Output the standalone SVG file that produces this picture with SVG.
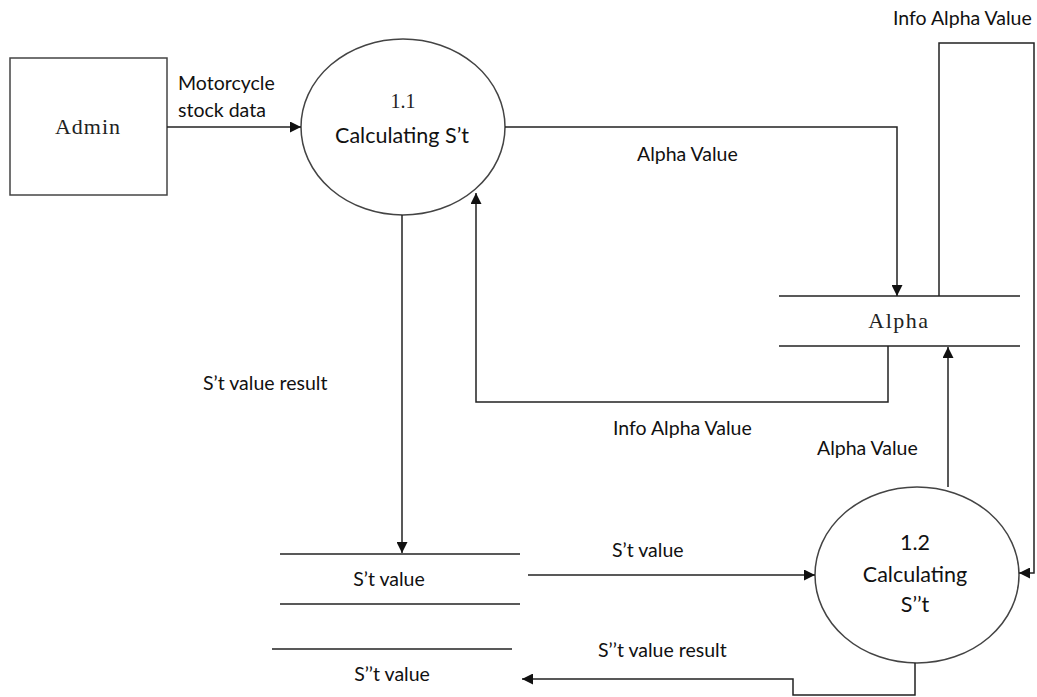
<svg xmlns="http://www.w3.org/2000/svg" width="1037" height="697" viewBox="0 0 1037 697">
<style>
.ln{fill:none;stroke:#222;stroke-width:1.5}
.sh{fill:#fff;stroke:#444;stroke-width:1.5}
.t{font-family:Lato,"Open Sans",sans-serif;font-size:19.5px;fill:#111}
.s{font-family:"Liberation Serif",serif;font-size:22px;fill:#222}
.c{text-anchor:middle}
</style>
<defs>
<marker id="ah" viewBox="0 0 10 10" refX="10" refY="5" markerWidth="11" markerHeight="11" markerUnits="userSpaceOnUse" orient="auto">
<path d="M0,0 L10,5 L0,10 z" fill="#111"/>
</marker>
</defs>
<g id="admin">
<rect class="sh" x="10" y="58" width="157" height="137"/>
<text class="s c" x="88" y="134" style="letter-spacing:1px">Admin</text>
</g>
<g id="p11">
<ellipse class="sh" cx="403" cy="127" rx="102" ry="88"/>
<text class="s c" x="403" y="108" style="font-size:20px">1.1</text>
<text class="t c" x="402" y="143" style="font-size:21.5px">Calculating S’t</text>
</g>
<g id="alpha">
<line class="ln" x1="779" y1="296" x2="1020" y2="296"/>
<line class="ln" x1="779" y1="346" x2="1020" y2="346"/>
<text class="s c" x="899" y="328" style="letter-spacing:1.5px">Alpha</text>
</g>
<g id="stvalue">
<line class="ln" x1="280" y1="554" x2="520" y2="554"/>
<line class="ln" x1="280" y1="604" x2="520" y2="604"/>
<text class="t c" x="389" y="586">S’t value</text>
</g>
<g id="sttvalue">
<line class="ln" x1="272" y1="649" x2="512" y2="649"/>
<text class="t c" x="392" y="681">S’’t value</text>
</g>
<g id="p12">
<ellipse class="sh" cx="917" cy="575" rx="102" ry="88"/>
<text class="t c" x="915" y="550" style="font-size:21.5px">1.2</text>
<text class="t c" x="915" y="582" style="font-size:21.5px">Calculating</text>
<text class="t c" x="915" y="612" style="font-size:21.5px">S’’t</text>
</g>
<g id="connectors">
<line class="ln" x1="167" y1="127" x2="301" y2="127" marker-end="url(#ah)"/>
<polyline class="ln" points="505,127 897,127 897,296" marker-end="url(#ah)"/>
<polyline class="ln" points="939,296 939,43 1034,43 1034,573 1019,573" marker-end="url(#ah)"/>
<polyline class="ln" points="888,346 888,402 476,402 476,193" marker-end="url(#ah)"/>
<line class="ln" x1="948" y1="487" x2="948" y2="347" marker-end="url(#ah)"/>
<line class="ln" x1="402" y1="215" x2="402" y2="553" marker-end="url(#ah)"/>
<line class="ln" x1="528" y1="575" x2="815" y2="575" marker-end="url(#ah)"/>
<polyline class="ln" points="915,663 915,695 793,695 793,679 522,679" marker-end="url(#ah)"/>
</g>
<g id="labels">
<text class="t" x="178" y="90">Motorcycle</text>
<text class="t" x="178" y="117">stock data</text>
<text class="t" x="637" y="161">Alpha Value</text>
<text class="t" x="893" y="25">Info Alpha Value</text>
<text class="t" x="203" y="390">S’t value result</text>
<text class="t" x="613" y="435">Info Alpha Value</text>
<text class="t" x="817" y="455">Alpha Value</text>
<text class="t" x="612" y="557">S’t value</text>
<text class="t" x="598" y="657">S’’t value result</text>
</g>
</svg>
